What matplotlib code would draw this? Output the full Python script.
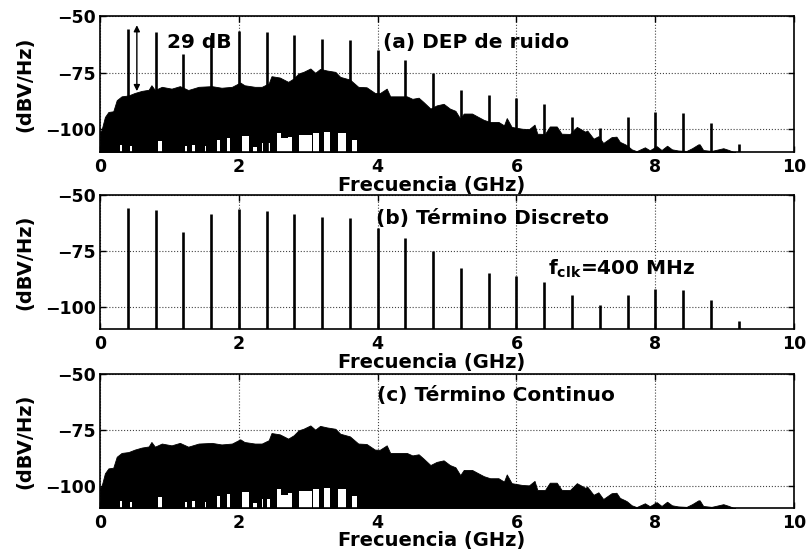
import matplotlib
matplotlib.use('Agg')
import matplotlib.pyplot as plt

plt.rcParams['font.family'] = ['DejaVu Sans']
plt.rcParams['font.weight'] = 'bold'
plt.rcParams['mathtext.default'] = 'bf'

# discrete term: clock harmonics (GHz, dBV/Hz)
f_disc = [0.4, 0.8, 1.2, 1.6, 2.0, 2.4, 2.8, 3.2, 3.6, 4.0, 4.4, 4.8,
          5.2, 5.6, 6.0, 6.4, 6.8, 7.2, 7.6, 8.0, 8.4, 8.8, 9.2]
p_disc = [-55.8, -56.9, -66.7, -58.4, -56.5, -57.2, -58.4, -60.0, -60.5, -64.8, -69.2, -75.0,
          -82.7, -84.9, -86.1, -88.9, -94.5, -99.3, -94.5, -92.2, -92.6, -97.1, -106.5]

# continuous term: upper envelope of the noise floor
f_cont = [0.00, 0.02, 0.07, 0.12, 0.19, 0.24, 0.31, 0.41, 0.50, 0.60,
          0.70, 0.74, 0.79, 0.89, 1.03, 1.15, 1.27, 1.42, 1.61, 1.75,
          1.90, 2.02, 2.08, 2.23, 2.33, 2.43, 2.47, 2.59, 2.71, 2.79,
          2.86, 2.93, 3.03, 3.10, 3.17, 3.27, 3.39, 3.46, 3.60, 3.72,
          3.84, 3.96, 4.03, 4.13, 4.18, 4.30, 4.42, 4.50, 4.59, 4.66,
          4.76, 4.85, 4.95, 5.04, 5.12, 5.19, 5.24, 5.36, 5.45, 5.53,
          5.62, 5.74, 5.82, 5.86, 5.93, 6.08, 6.18, 6.26, 6.30, 6.41,
          6.48, 6.58, 6.65, 6.77, 6.87, 6.99, 7.02, 7.11, 7.18, 7.25,
          7.37, 7.44, 7.49, 7.56, 7.59, 7.66, 7.73, 7.85, 7.92, 8.02,
          8.09, 8.17, 8.24, 8.33, 8.45, 8.53, 8.62, 8.64, 8.69, 8.81,
          8.91, 8.98, 9.06, 9.13, 9.15]
p_cont = [-101.0, -100.4, -94.5, -92.3, -92.0, -87.1, -85.4, -85.0, -83.9, -83.0,
          -82.5, -80.5, -82.6, -81.2, -82.0, -80.9, -82.6, -81.2, -80.9, -81.6,
          -81.2, -79.3, -80.5, -81.2, -81.2, -79.7, -76.5, -77.1, -79.0, -77.5,
          -75.3, -74.6, -73.1, -75.0, -73.3, -74.0, -74.6, -76.8, -78.0, -81.2,
          -81.4, -83.9, -84.0, -82.0, -85.4, -85.4, -85.4, -86.5, -86.0, -87.9,
          -90.8, -89.4, -88.7, -90.8, -91.8, -95.3, -93.0, -93.0, -94.5, -95.8,
          -96.7, -96.7, -98.2, -95.0, -98.9, -99.7, -99.9, -97.9, -101.9, -102.0,
          -98.7, -98.7, -101.9, -102.0, -98.9, -101.0, -100.5, -104.1, -103.0, -106.0,
          -103.4, -103.2, -105.5, -106.5, -107.0, -108.8, -109.6, -107.9, -109.2, -107.4,
          -109.1, -107.2, -108.8, -109.3, -109.5, -108.3, -106.6, -106.6, -109.1, -109.5,
          -108.8, -108.3, -109.1, -110.0, -110.0]

# gaps at the bottom of the noise floor: start, end (GHz), top (dBV/Hz)
gap_lo = [0.29, 0.43, 0.84, 1.22, 1.32, 1.51, 1.68, 1.83, 2.04, 2.21,
          2.33, 2.40, 2.55, 2.60, 2.71, 2.87, 3.07, 3.23, 3.43, 3.63]
gap_hi = [0.31, 0.46, 0.89, 1.25, 1.37, 1.53, 1.73, 1.87, 2.14, 2.26,
          2.35, 2.45, 2.60, 2.71, 2.76, 3.05, 3.16, 3.32, 3.55, 3.70]
gap_top = [-107.0, -107.5, -105.3, -107.3, -107.0, -107.5, -104.8, -103.9, -102.8, -107.6,
           -106.0, -106.0, -101.5, -104.0, -103.5, -102.3, -101.5, -101.2, -101.5, -104.6]

y_min, y_max = -110, -50


def draw_cont(ax):
    ax.fill_between(f_cont, y_min, p_cont, color='black', lw=0.6, zorder=2)
    for lo, hi, top in zip(gap_lo, gap_hi, gap_top):
        ax.fill_between([lo, hi], y_min, top, color='white', lw=0, zorder=2.5)


def draw_disc(ax):
    ax.vlines(f_disc, y_min, p_disc, color='black', lw=1.9, zorder=3)


def style(ax):
    ax.set_xlim(0, 10)
    ax.set_ylim(y_min, y_max)
    ax.set_xticks([0, 2, 4, 6, 8, 10])
    ax.set_yticks([-100, -75, -50])
    ax.set_yticklabels(['\u2212100', '\u221275', '\u221250'])
    ax.grid(True, linestyle=':', color='#444444', lw=0.8)
    ax.set_axisbelow(True)
    ax.tick_params(direction='in', length=4, width=1, top=True, right=True,
                   labelsize=12.5, pad=4)
    ax.tick_params(axis='y', pad=3)
    for s in ax.spines.values():
        s.set_linewidth(1.2)
    ax.set_ylabel('(dBV/Hz)', fontsize=14, fontweight='bold')
    ax.set_xlabel('Frecuencia (GHz)', fontsize=14, fontweight='bold')
    ax.xaxis.set_label_coords(0.478, -0.175)
    ax.yaxis.set_label_coords(-0.094, 0.5)


fig = plt.figure(figsize=(8.07, 5.57), dpi=100)
ax1 = fig.add_axes([0.124, 0.727, 0.860, 0.244])
ax2 = fig.add_axes([0.124, 0.409, 0.860, 0.241])
ax3 = fig.add_axes([0.124, 0.088, 0.860, 0.241])

draw_cont(ax1)
draw_disc(ax1)
draw_disc(ax2)
draw_cont(ax3)

for ax in (ax1, ax2, ax3):
    style(ax)

ax1.annotate('', xy=(0.53, -54), xytext=(0.53, -83.1),
             arrowprops=dict(arrowstyle='<|-|>', color='black', lw=1,
                             mutation_scale=9, shrinkA=0, shrinkB=0))
ax1.text(0.96, -61.5, '29 dB', fontsize=14.5, fontweight='bold', va='center')
ax1.text(4.07, -61.7, '(a) DEP de ruido', fontsize=14.5, fontweight='bold', va='center')
ax2.text(3.98, -60.7, '(b) T\u00e9rmino Discreto', fontsize=14.5, fontweight='bold', va='center')
ax2.text(6.46, -85.7, 'f$_{clk}$=400 MHz', fontsize=14.5, fontweight='bold', va='baseline')
ax3.text(3.99, -59.8, '(c) T\u00e9rmino Continuo', fontsize=14.5, fontweight='bold', va='center')

fig.savefig('out.png', dpi=100)
